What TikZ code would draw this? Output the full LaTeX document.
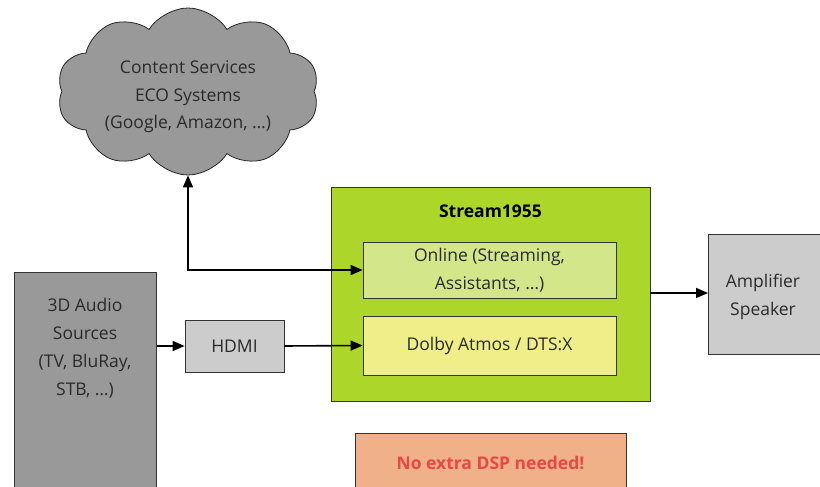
\documentclass[tikz,border=0pt]{standalone}
\usepackage{fontspec}
\setmainfont{Open Sans}
\usetikzlibrary{shapes.symbols,arrows.meta}
\definecolor{streamgreen}{HTML}{ADD62A}
\definecolor{onlinegreen}{HTML}{D3E68A}
\definecolor{dolbyyellow}{HTML}{F0EE88}
\definecolor{darkgray}{HTML}{999999}
\definecolor{lightgray}{HTML}{CCCCCC}
\definecolor{dspfill}{HTML}{F0B088}
\definecolor{dsptext}{HTML}{E84848}
\definecolor{txt}{HTML}{2A2A2A}
\tikzset{
  box/.style={draw=black!80, line width=0.8pt, inner sep=0pt, align=center, text=txt,
    font=\fontsize{17.5}{28}\selectfont},
  lbl/.style={align=center, text=txt, inner sep=0pt, font=\fontsize{17.5}{28}\selectfont},
  bigtip/.tip={Triangle[length=12pt,width=10pt]},
  conn/.style={-bigtip, line width=1.6pt},
}
\begin{document}
\begin{tikzpicture}[x=1pt,y=-1pt]
\useasboundingbox (0,0) rectangle (820,487);
\clip (0,0) rectangle (820,487);
% cloud
\node[cloud, cloud puffs=10, cloud puff arc=115, aspect=1.6, draw=black!85, line width=0.8pt,
  fill=darkgray, minimum width=262pt, minimum height=167pt, inner sep=0pt] (cloud) at (188,91.5) {};
\node[lbl, font=\fontsize{17.5}{27.5}\selectfont] (cloudtext) at (188,97)
  {Content Services\\ECO Systems\\(Google, Amazon, \dots)};
% stream box
\node[box, fill=streamgreen, minimum width=319pt, minimum height=214pt] (stream) at (490.5,294) {};
\node[font=\fontsize{17.5}{20}\selectfont\bfseries, text=black] (title) at (490.5,211) {Stream1955};
\node[box, fill=onlinegreen, minimum width=253pt, minimum height=56pt] (online) at (489.5,270)
  {Online (Streaming,\\Assistants, \dots)};
\node[box, fill=dolbyyellow, minimum width=253pt, minimum height=59pt] (dolby) at (489.5,345.5)
  {Dolby Atmos / DTS:X};
% sources
\node[box, fill=darkgray, minimum width=142pt, minimum height=240pt, anchor=north west] (src) at (14,272) {};
\node[lbl] (srctext) at (85,348)
  {3D Audio\\Sources\\(TV, BluRay,\\STB, \dots)};
% HDMI
\node[box, fill=lightgray, minimum width=99pt, minimum height=52pt] (hdmi) at (234.5,346) {HDMI};
% amplifier
\node[box, fill=lightgray, minimum width=130pt, minimum height=120pt, anchor=north west] (amp) at (708,234) {};
\node[lbl] (amptext) at (763,297) {Amplifier\\Speaker};
% DSP
\node[box, fill=dspfill, minimum width=271pt, minimum height=80pt, anchor=north west] (dsp) at (355,433) {};
\node[text=dsptext, font=\fontsize{17.5}{20}\selectfont\bfseries] (dsptxt) at (490.5,463) {No extra DSP needed!};
% connectors
\draw[conn, bigtip-bigtip] (cloud.south) -- (cloud.south |- online.west) -- (online.west);
\draw[conn] (src.east |- hdmi.west) -- (hdmi.west);
\draw[conn] (hdmi.east) -- (dolby.west);
\draw[conn] (stream.east |- 0,293) -- (amp.west |- 0,293);
\end{tikzpicture}
\end{document}
